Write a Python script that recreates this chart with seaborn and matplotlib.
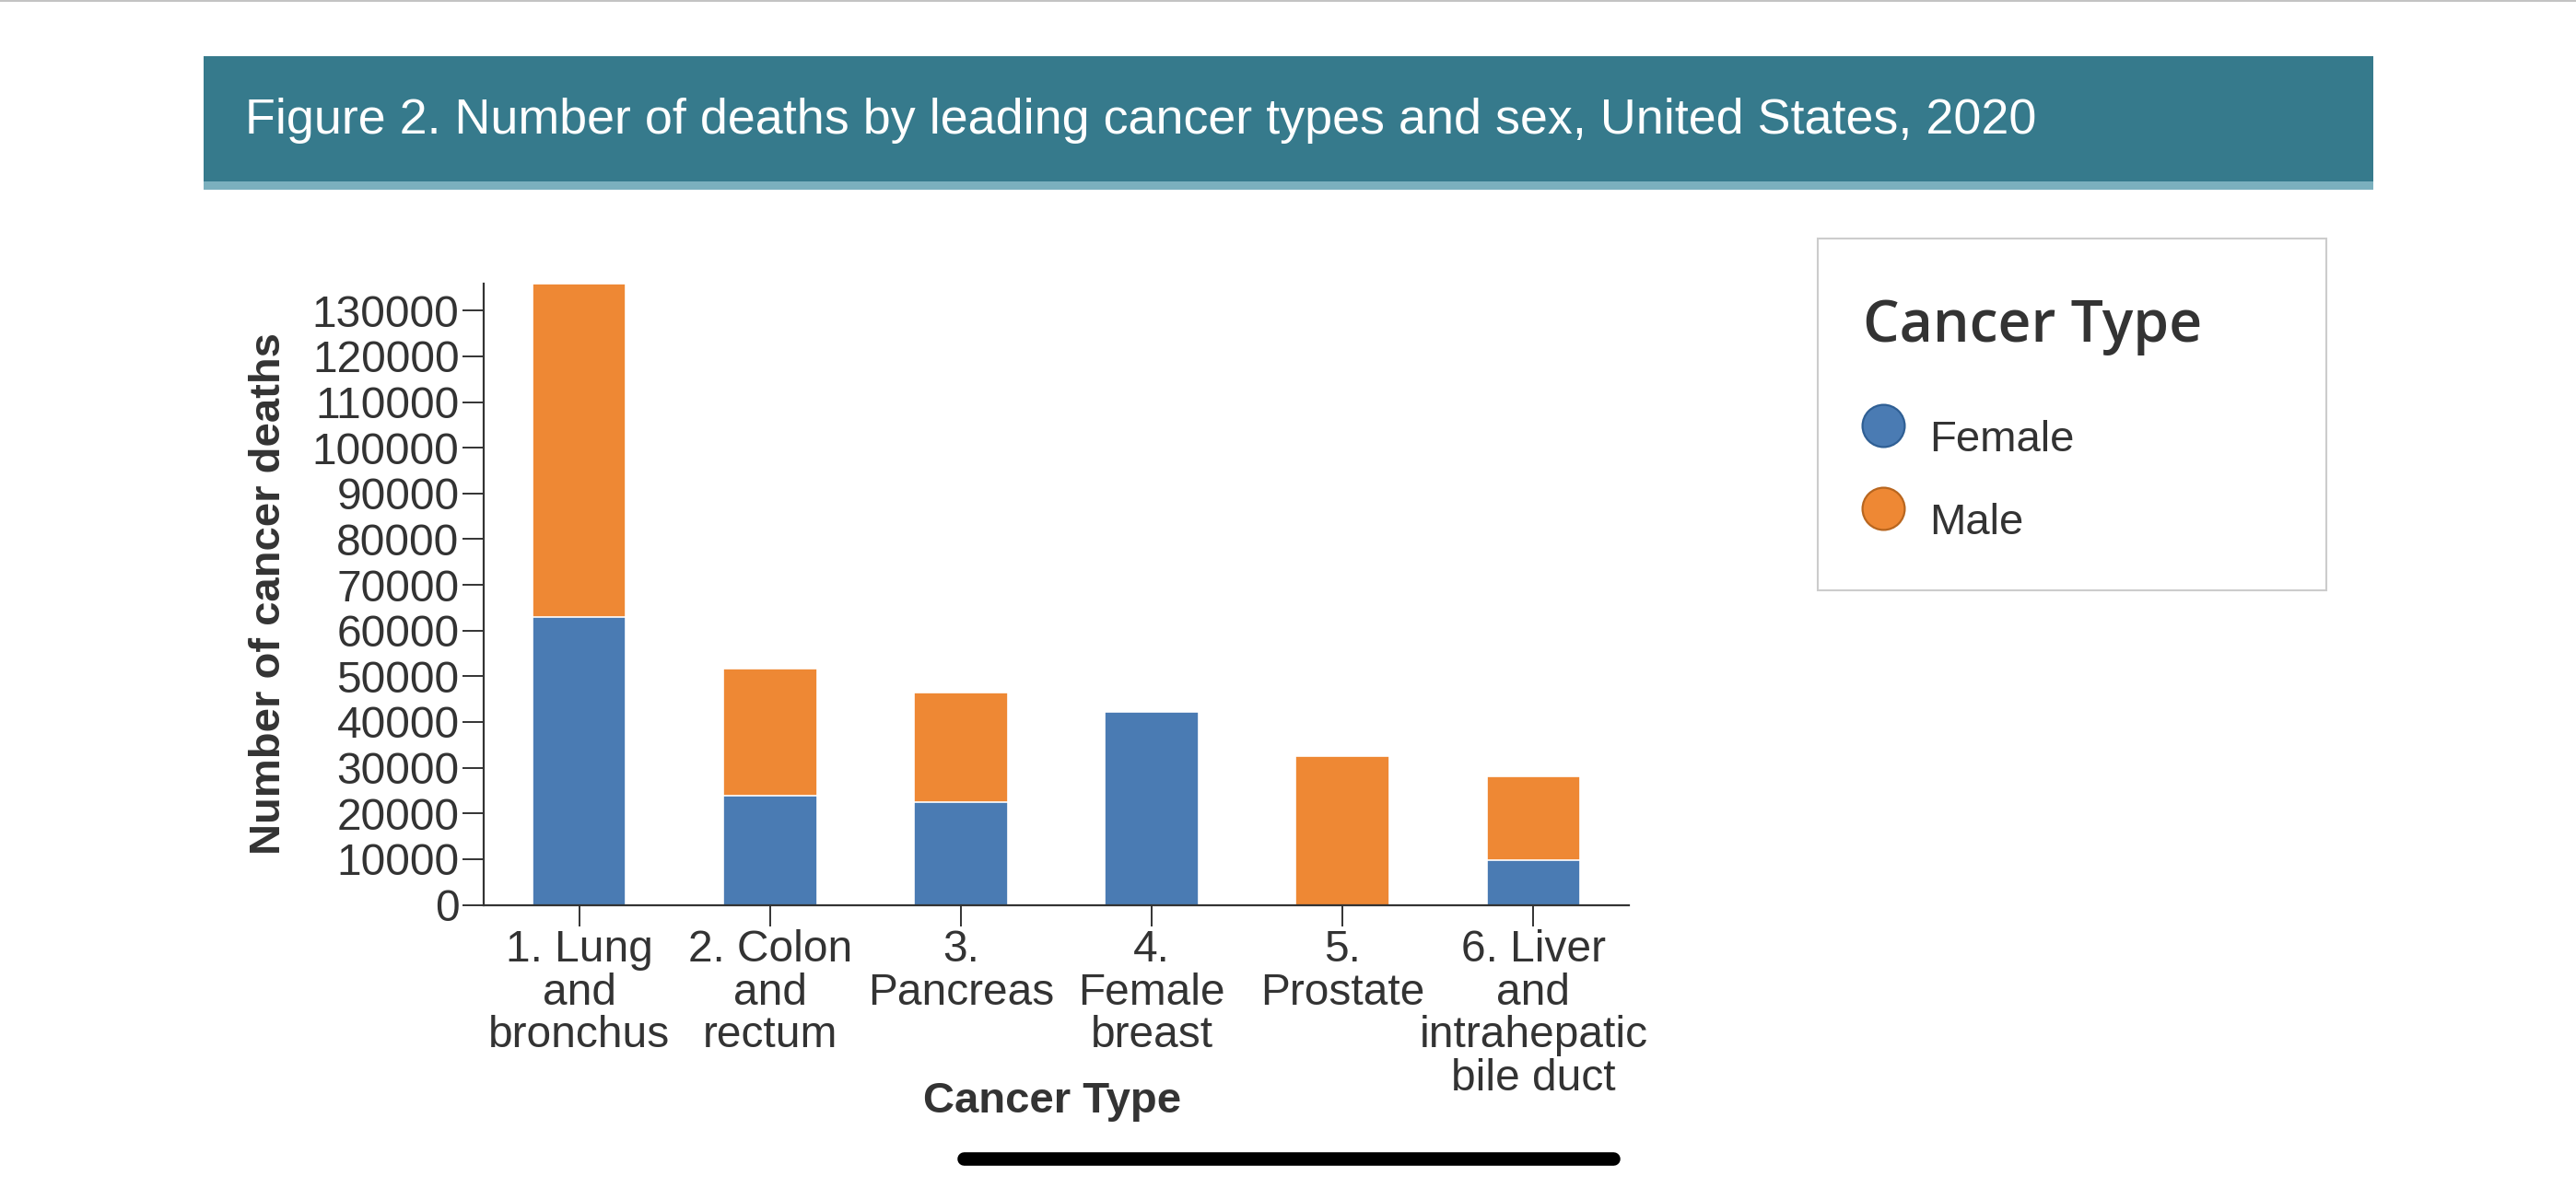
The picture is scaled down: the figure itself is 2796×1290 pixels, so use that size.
import matplotlib
matplotlib.use("Agg")
import matplotlib.pyplot as plt
from matplotlib.patches import Rectangle
from matplotlib.lines import Line2D
import seaborn as sns
import pandas as pd

# ---- data ----
categories = ["1. Lung\nand\nbronchus", "2. Colon\nand\nrectum", "3.\nPancreas",
              "4.\nFemale\nbreast", "5.\nProstate", "6. Liver\nand\nintrahepatic\nbile duct"]
female = [63000, 23800, 22500, 42200, 0, 9700]
male = [72850, 27900, 23950, 0, 32550, 18480]
series_names = ["Female", "Male"]
yticks = list(range(0, 130001, 10000))
title = "Figure 2. Number of deaths by leading cancer types and sex, United States, 2020"
x_title = "Cancer Type"
y_title = "Number of cancer deaths"
legend_title = "Cancer Type"

BLUE = "#4A7BB3"
ORANGE = "#EE8834"
TXT = "#333333"

sns.set_theme(style="ticks")
plt.rcParams["font.family"] = ["Liberation Sans", "DejaVu Sans"]

W, H = 2796, 1290
fig = plt.figure(figsize=(W / 100, H / 100), dpi=100)
fig.patch.set_facecolor("white")

def fx(x):
    return x / W

def fy(y):
    return 1 - y / H

df = pd.DataFrame({"type": categories, "Female": female, "Male": male})
df["Total"] = df["Female"] + df["Male"]

# axes placement
ax_l, ax_r, ax_b, ax_t = 525, 1768, 982.5, 308.3
ax = fig.add_axes([fx(ax_l), fy(ax_b), (ax_r - ax_l) / W, (ax_b - ax_t) / H])

sns.barplot(data=df, x="type", y="Total", color=ORANGE, saturation=1, width=0.49,
            errorbar=None, edgecolor="white", linewidth=1.2, ax=ax, order=categories)
sns.barplot(data=df, x="type", y="Female", color=BLUE, saturation=1, width=0.49,
            errorbar=None, edgecolor="white", linewidth=1.2, ax=ax, order=categories)

ax.set_xlim(-0.5, len(categories) - 0.5)
ax.set_ylim(0, df["Total"].max())
ax.set_yticks(yticks)
ax.set_yticklabels([str(v) for v in yticks])
for s in ["top", "right"]:
    ax.spines[s].set_visible(False)
for s in ["left", "bottom"]:
    ax.spines[s].set_color(TXT)
    ax.spines[s].set_linewidth(1.6)
ax.tick_params(axis="both", length=16.5, width=1.4, color=TXT, labelcolor=TXT,
               labelsize=34.5, pad=2.5)
for lab in ax.get_xticklabels():
    lab.set_linespacing(1.05)

ax.set_xlabel(x_title, fontsize=34, fontweight="bold", color=TXT)
ax.set_ylabel(y_title, fontsize=34, fontweight="bold", color=TXT)
ax.xaxis.set_label_coords(0.4964, (ax_b - 1174) / (ax_b - ax_t))
ax.yaxis.set_label_coords((314 - ax_l) / (ax_r - ax_l), (ax_b - 644) / (ax_b - ax_t))

# ---- header band ----
fig.add_artist(Line2D([0, 1], [fy(0.8), fy(0.8)], color="#b8b8b8", lw=1.2))
fig.patches.append(Rectangle((fx(221), fy(197)), (2576 - 221) / W, (197 - 61) / H,
                             transform=fig.transFigure, facecolor="#367A8C",
                             edgecolor="none"))
fig.patches.append(Rectangle((fx(221), fy(206)), (2576 - 221) / W, (206 - 197) / H,
                             transform=fig.transFigure, facecolor="#7BB0BE",
                             edgecolor="none"))
fig.text(fx(266), fy(145), title, color="white", fontsize=38.8, va="baseline", ha="left")

# ---- legend ----
fig.patches.append(Rectangle((fx(1973), fy(641)), (2525 - 1973) / W, (641 - 259.4) / H,
                             transform=fig.transFigure, facecolor="white",
                             edgecolor="#cccccc", linewidth=1.5))
fig.text(fx(2022), fy(370.6), legend_title, family=["Open Sans", "DejaVu Sans"],
         fontweight="semibold", fontsize=45, color=TXT, va="baseline", ha="left")
leg_colors = [BLUE, ORANGE]
leg_edges = ["#2F5F94", "#B8661F"]
leg_cy = [462, 552]
leg_base = [489.5, 580]
for name, c, e, cy, by in zip(series_names, leg_colors, leg_edges, leg_cy, leg_base):
    fig.add_artist(Line2D([fx(2044)], [fy(cy)], marker="o", markersize=33,
                          markerfacecolor=c, markeredgecolor=e, markeredgewidth=1.6,
                          linestyle="none"))
    fig.text(fx(2094), fy(by), name, fontsize=34, color=TXT, va="baseline", ha="left")

# ---- bottom home indicator ----
fig.add_artist(Line2D([fx(1046), fx(1751)], [fy(1258), fy(1258)], color="black",
                      lw=10.5, solid_capstyle="round"))

fig.savefig("out.png", dpi=100, facecolor="white")
